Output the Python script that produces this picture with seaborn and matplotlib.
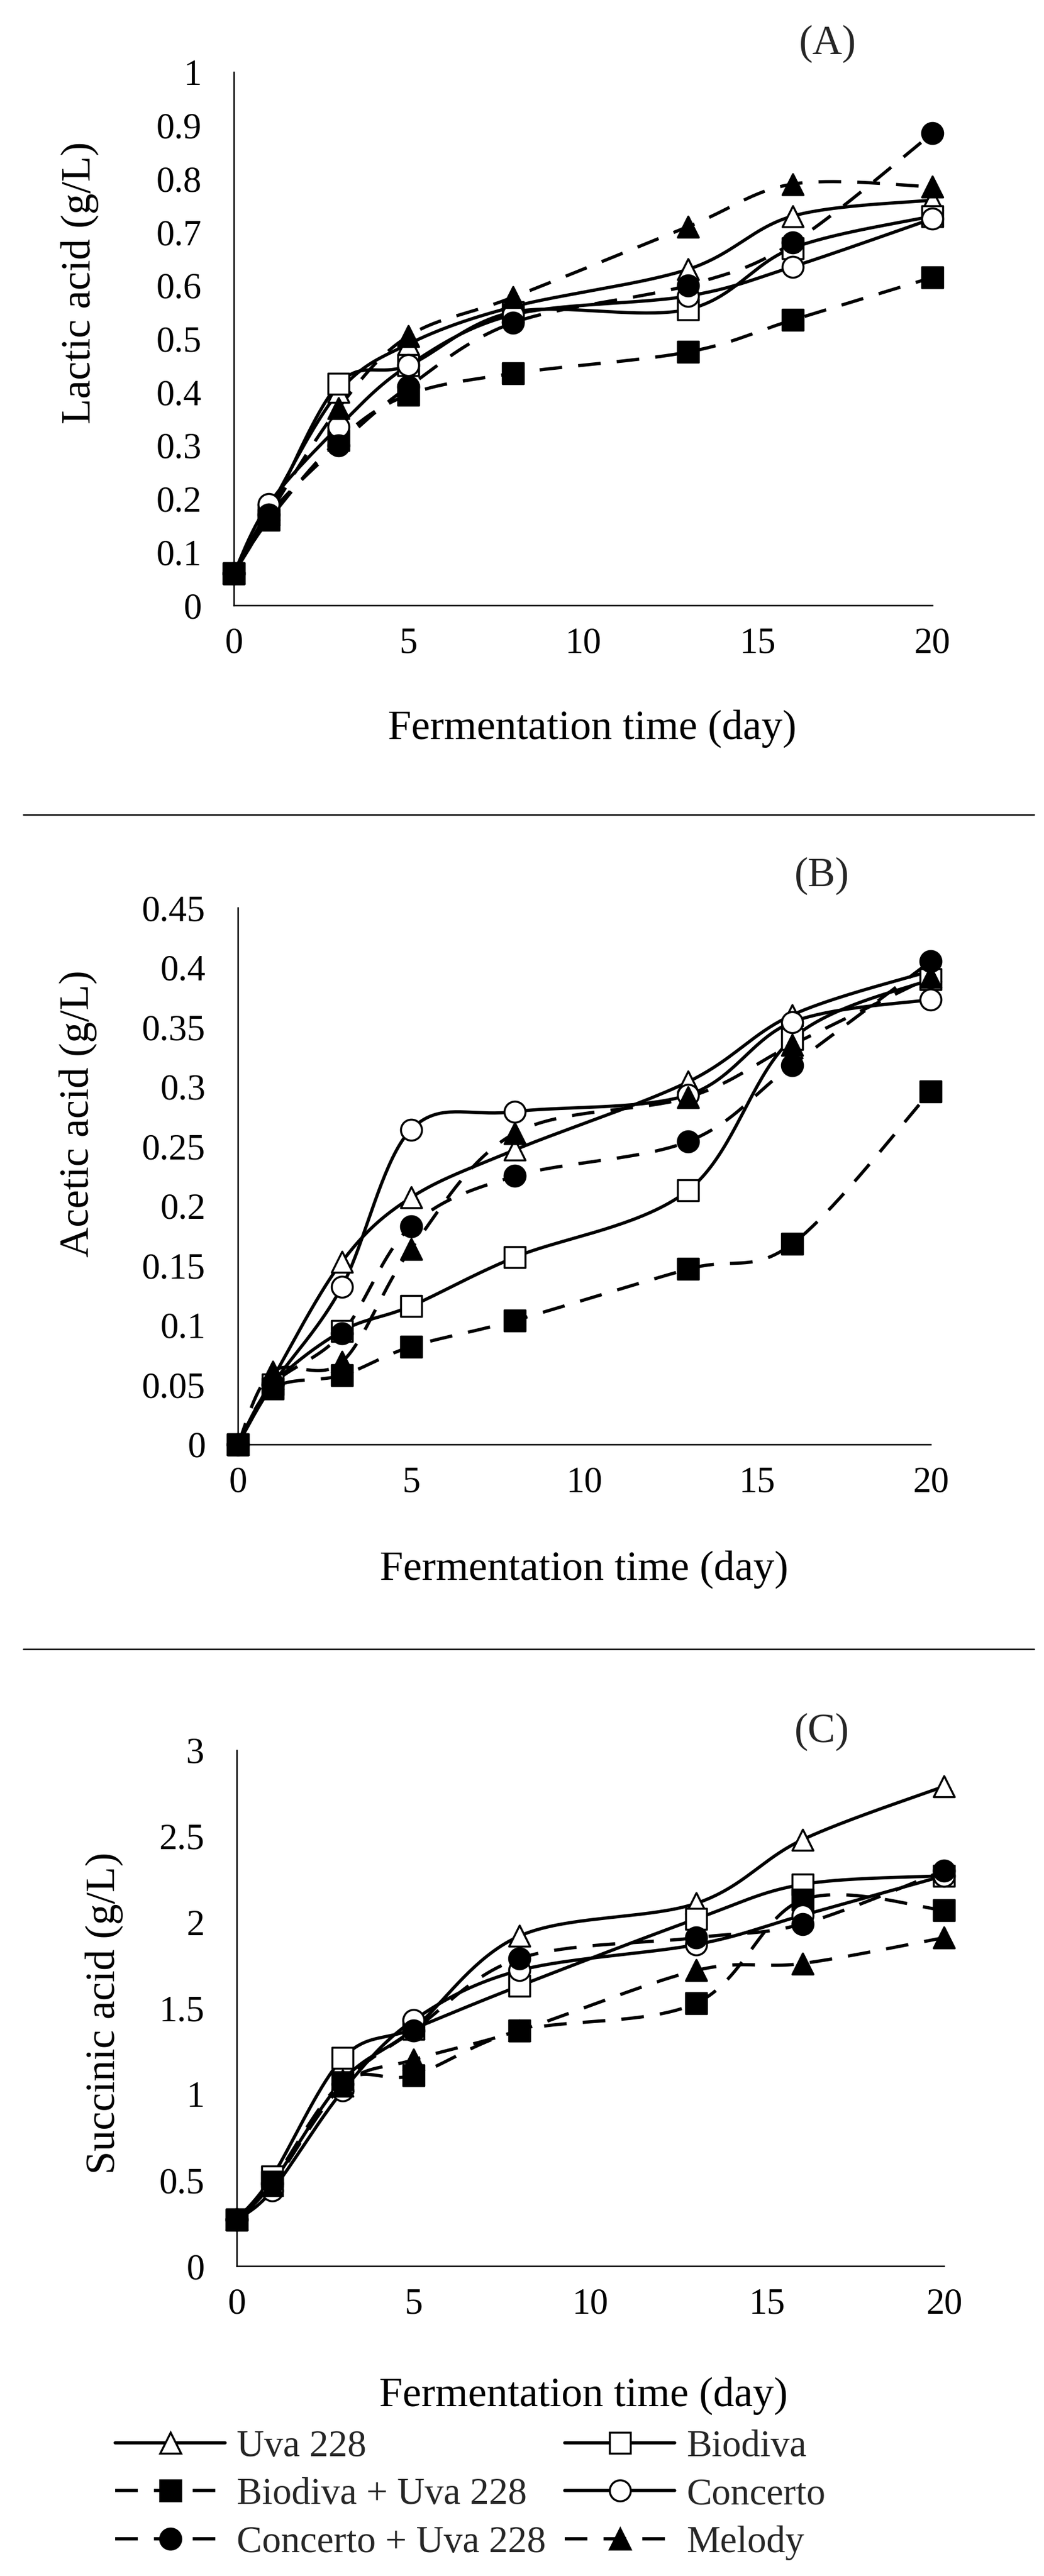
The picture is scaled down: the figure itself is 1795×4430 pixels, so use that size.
import numpy as np
import matplotlib
matplotlib.use("Agg")
import matplotlib.pyplot as plt
from matplotlib.lines import Line2D
from matplotlib.ticker import FuncFormatter
import seaborn as sns

# fermentation days and strains
days = [0, 1, 3, 5, 8, 13, 16, 20]
strains = ["Uva 228", "Biodiva", "Biodiva + Uva 228", "Concerto",
           "Concerto + Uva 228", "Melody"]

# one row per strain, same order as strains
lactic = [
    [0.06, 0.18, 0.40, 0.49, 0.56, 0.63, 0.73, 0.76],
    [0.06, 0.17, 0.415, 0.45, 0.55, 0.555, 0.67, 0.73],
    [0.06, 0.16, 0.31, 0.395, 0.435, 0.475, 0.535, 0.615],
    [0.06, 0.19, 0.335, 0.45, 0.545, 0.58, 0.635, 0.725],
    [0.06, 0.17, 0.30, 0.41, 0.53, 0.60, 0.68, 0.885],
    [0.06, 0.17, 0.37, 0.505, 0.578, 0.71, 0.79, 0.785],
]
acetic = [
    [0, 0.055, 0.153, 0.207, 0.247, 0.304, 0.36, 0.397],
    [0, 0.05, 0.095, 0.116, 0.157, 0.213, 0.34, 0.39],
    [0, 0.047, 0.058, 0.082, 0.104, 0.147, 0.168, 0.296],
    [0, 0.05, 0.132, 0.264, 0.279, 0.293, 0.354, 0.373],
    [0, 0.05, 0.093, 0.183, 0.225, 0.254, 0.318, 0.405],
    [0, 0.061, 0.069, 0.164, 0.261, 0.291, 0.335, 0.392],
]
succinic = [
    [0.27, 0.48, 1.08, 1.38, 1.92, 2.11, 2.48, 2.79],
    [0.27, 0.52, 1.21, 1.38, 1.63, 2.02, 2.22, 2.27],
    [0.27, 0.49, 1.07, 1.11, 1.37, 1.53, 2.13, 2.07],
    [0.27, 0.44, 1.02, 1.43, 1.72, 1.87, 2.04, 2.27],
    [0.27, 0.48, 1.06, 1.37, 1.79, 1.91, 1.99, 2.30],
    [0.27, 0.47, 1.05, 1.20, 1.37, 1.72, 1.76, 1.91],
]

markers = ["^", "s", "s", "o", "o", "^"]
faces = ["white", "white", "black", "white", "black", "black"]
DASH = (0, (28, 20))
styles = ["-", "-", DASH, "-", DASH, DASH]

FS_LABEL = 52
FS_TICK = 45
FS_LEG = 47
LW = 4
MS = 26
MEW = 2.5

sns.set_theme(style="white")
plt.rcParams["font.family"] = ["Liberation Serif", "DejaVu Serif"]
plt.rcParams["lines.scale_dashes"] = False


def smooth(x, y, n=40):
    # excel style smoothed line (catmull-rom as cubic bezier)
    p = np.column_stack([x, y]).astype(float)
    t = np.linspace(0, 1, n)[:, None]
    out = [p[:1]]
    for i in range(len(p) - 1):
        p0 = p[i - 1] if i > 0 else p[i]
        p1, p2 = p[i], p[i + 1]
        p3 = p[i + 2] if i + 2 < len(p) else p[i + 1]
        c1 = p1 + (p2 - p0) / 6
        c2 = p2 - (p3 - p1) / 6
        seg = ((1 - t) ** 3) * p1 + 3 * ((1 - t) ** 2) * t * c1 \
            + 3 * (1 - t) * t ** 2 * c2 + t ** 3 * p2
        out.append(seg[1:])
    out = np.vstack(out)
    return out[:, 0], out[:, 1]


def panel(ax, data, ymax, ystep, ylabel, ylab_pos, xlab_pos):
    for vals, ls in zip(data, styles):
        xs, ys = smooth(days, vals)
        sns.lineplot(x=xs, y=ys, ax=ax, color="black", lw=LW, linestyle=ls,
                     sort=False, estimator=None, legend=False, zorder=2)
    for vals, mk, fc in zip(data, markers, faces):
        sns.scatterplot(x=days, y=vals, ax=ax, marker=mk, s=MS ** 2, color=fc,
                        edgecolor="black", linewidth=MEW, clip_on=False,
                        legend=False, zorder=3)
    ax.set_xlim(0, 20)
    ax.set_ylim(0, ymax)
    ax.set_xticks([0, 5, 10, 15, 20])
    ax.set_yticks(np.arange(0, ymax + ystep / 2, ystep))
    ax.yaxis.set_major_formatter(FuncFormatter(lambda v, p: f"{v:g}"))
    ax.tick_params(length=0, labelsize=FS_TICK, colors="black")
    ax.tick_params(axis="y", pad=40)
    ax.tick_params(axis="x", pad=27)
    sns.despine(ax=ax)
    for s in ["left", "bottom"]:
        ax.spines[s].set_color("black")
        ax.spines[s].set_linewidth(1.8)
    ax.set_xlabel("Fermentation time (day)", fontsize=FS_LABEL, color="black")
    ax.set_ylabel(ylabel, fontsize=FS_LABEL, color="black")
    ax.xaxis.set_label_coords(*xlab_pos)
    ax.yaxis.set_label_coords(*ylab_pos)


W, H = 1795, 4430
fig = plt.figure(figsize=(W / 100, H / 100), dpi=100)

axA = fig.add_axes([402 / W, 1 - 1041 / H, 1201 / W, 917 / H])
panel(axA, lactic, 1.0, 0.1, "Lactic acid (g/L)", (-0.193, 0.605), (0.513, -0.195))
axB = fig.add_axes([409 / W, 1 - 2484 / H, 1191 / W, 923 / H])
panel(axB, acetic, 0.45, 0.05, "Acetic acid (g/L)", (-0.203, 0.616), (0.50, -0.197))
axC = fig.add_axes([407 / W, 1 - 3897 / H, 1216 / W, 887 / H])
panel(axC, succinic, 3.0, 0.5, "Succinic acid (g/L)", (-0.16, 0.49), (0.49, -0.214))

for txt, x, y in [("(A)", 1423, 75), ("(B)", 1413, 1506), ("(C)", 1413, 2978)]:
    fig.text(x / W, 1 - y / H, txt, ha="center", va="center", fontsize=51)

for y in [1401, 2836]:
    fig.add_artist(Line2D([40 / W, 1778 / W], [1 - y / H] * 2,
                          transform=fig.transFigure, color="black", lw=1.8))

handles = [Line2D([], [], color="black", lw=LW, linestyle=ls, marker=mk,
                  markersize=MS, markerfacecolor=fc, markeredgecolor="black",
                  markeredgewidth=MEW)
           for mk, fc, ls in zip(markers, faces, styles)]
order = [0, 2, 4, 1, 3, 5]
fig.legend([handles[i] for i in order], [strains[i] for i in order], ncol=2,
           loc="upper left", bbox_to_anchor=(198 / W, 1 - 4178 / H),
           frameon=False, fontsize=FS_LEG, handlelength=2.9, handletextpad=0.3,
           columnspacing=0.5, labelspacing=0.35, borderpad=0, borderaxespad=0)

fig.savefig("out.png", dpi=100)
